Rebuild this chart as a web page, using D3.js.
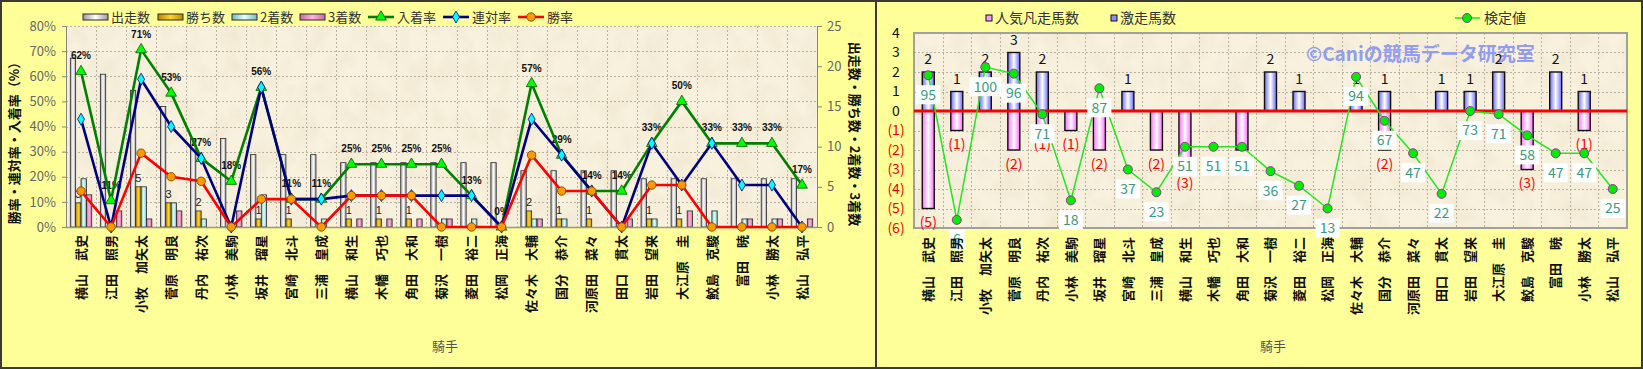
<!DOCTYPE html>
<html>
<head>
<meta charset="utf-8">
<script src="https://cdn.jsdelivr.net/npm/d3@7"></script>
<style>
	body { margin: 0; background: #ffffff; }
	svg { display: block; }
</style>
</head>
<body>
<div id="chart"></div>
<script>
var jockeys = ["横山　武史", "江田　照男", "小牧　加矢太", "菅原　明良", "丹内　祐次", "小林　美駒", "坂井　瑠星", "宮崎　北斗", "三浦　皇成", "横山　和生", "木幡　巧也", "角田　大和", "菊沢　一樹", "菱田　裕二", "松岡　正海", "佐々木　大輔", "国分　恭介", "河原田　菜々", "田口　貫太", "岩田　望来", "大江原　圭", "鮫島　克駿", "富田　暁", "小林　勝太", "松山　弘平"];

// left chart: counts (right axis) and rates in % (left axis)
var starts = [21, 19, 17, 15, 11, 11, 9, 9, 9, 8, 8, 8, 8, 8, 8, 7, 7, 7, 7, 6, 6, 6, 6, 6, 6];
var wins = [3, 0, 5, 3, 2, 0, 1, 1, 0, 1, 1, 1, 0, 0, 0, 2, 1, 1, 0, 1, 1, 0, 0, 0, 0];
var seconds = [6, 0, 5, 3, 1, 0, 4, 0, 1, 0, 0, 0, 1, 1, 0, 1, 1, 0, 0, 1, 0, 2, 1, 1, 0];
var thirds = [4, 2, 1, 2, 0, 2, 0, 0, 0, 1, 1, 1, 1, 0, 0, 1, 0, 0, 1, 0, 2, 0, 1, 1, 1];
var winRate = [14.3, 0, 29.4, 20, 18.2, 0, 11.1, 11.1, 0, 12.5, 12.5, 12.5, 0, 0, 0, 28.6, 14.3, 14.3, 0, 16.7, 16.7, 0, 0, 0, 0];
var rentaiRate = [42.9, 0, 58.8, 40, 27.3, 0, 55.6, 11.1, 11.1, 12.5, 12.5, 12.5, 12.5, 12.5, 0, 42.9, 28.6, 14.3, 0, 33.3, 16.7, 33.3, 16.7, 16.7, 0];
var placeRate = [61.9, 10.5, 70.6, 53.3, 27.3, 18.2, 55.6, 11.1, 11.1, 25, 25, 25, 25, 12.5, 0, 57.1, 28.6, 14.3, 14.3, 33.3, 50, 33.3, 33.3, 33.3, 16.7];
var pctTicks = [0, 10, 20, 30, 40, 50, 60, 70, 80];
var countTicks = [0, 5, 10, 15, 20, 25];

// right chart: 激走 up, 人気凡走 down, 検定値 on a hidden second scale
var gekisou = [2, 1, 2, 3, 2, 0, 0, 1, 0, 0, 0, 0, 2, 1, 0, 1, 1, 0, 1, 1, 2, 0, 2, 1, 0];
var bonsou = [5, 1, 0, 2, 1, 1, 2, 0, 2, 3, 0, 2, 0, 0, 0, 0, 2, 0, 0, 0, 0, 3, 0, 1, 0];
var kentei = [95, 6, 100, 96, 71, 18, 87, 37, 23, 51, 51, 51, 36, 27, 13, 94, 67, 47, 22, 73, 71, 58, 47, 47, 25];
var scoreTicks = [-6, -5, -4, -3, -2, -1, 0, 1, 2, 3, 4];

(function () {
	"use strict";

	var FONT = '"Noto Sans CJK JP", "Noto Sans", sans-serif';
	var WIDTH = 1643, HEIGHT = 369;

	var svg = d3.select('#chart')
		.append('svg')
		.attr('width', WIDTH)
		.attr('height', HEIGHT)
		.style('font-family', FONT);

	var defs = svg.append('defs');
	barGradient(defs, 'g-starts', '#9c9c9c', '#ffffff');
	barGradient(defs, 'g-wins', '#b88a00', '#ffd426');
	barGradient(defs, 'g-seconds', '#74bcbc', '#e4ffff');
	barGradient(defs, 'g-thirds', '#c86a9c', '#ffb6dc');
	barGradient(defs, 'g-gekisou', '#6a6aff', '#ffffff');
	barGradient(defs, 'g-bonsou', '#ff6aff', '#ffffff');
	paperFilter(defs);

	svg.append('rect')
		.attr('x', 1).attr('y', 1)
		.attr('width', WIDTH - 2).attr('height', HEIGHT - 2)
		.attr('fill', '#ffff99')
		.attr('stroke', '#3a3a30')
		.attr('stroke-width', 2);

	svg.append('line')
		.attr('x1', 876).attr('x2', 876)
		.attr('y1', 0).attr('y2', HEIGHT)
		.attr('stroke', '#3a3a30')
		.attr('stroke-width', 2);

	renderResults(svg.append('g'));
	renderScores(svg.append('g'));

	function barGradient(defs, id, edge, mid) {
		var grad = defs.append('linearGradient')
			.attr('id', id)
			.attr('x1', 0).attr('x2', 1).attr('y1', 0).attr('y2', 0);
		grad.append('stop').attr('offset', '0%').attr('stop-color', edge);
		grad.append('stop').attr('offset', '50%').attr('stop-color', mid);
		grad.append('stop').attr('offset', '100%').attr('stop-color', edge);
	}

	function paperFilter(defs) {
		var f = defs.append('filter')
			.attr('id', 'paper')
			.attr('x', 0).attr('y', 0).attr('width', 1).attr('height', 1);
		f.append('feTurbulence')
			.attr('type', 'fractalNoise')
			.attr('baseFrequency', '0.045 0.035')
			.attr('numOctaves', 4)
			.attr('seed', 7);
		f.append('feColorMatrix')
			.attr('type', 'matrix')
			.attr('values', '0 0 0 0 0.80  0 0 0 0 0.72  0 0 0 0 0.52  0.8 0 0 0 -0.3');
	}

	function plotPaper(g, box) {
		g.append('rect')
			.attr('x', box.left).attr('y', box.top)
			.attr('width', box.right - box.left).attr('height', box.bottom - box.top)
			.attr('fill', '#f8f1de');
		g.append('rect')
			.attr('x', box.left).attr('y', box.top)
			.attr('width', box.right - box.left).attr('height', box.bottom - box.top)
			.attr('fill', '#000')
			.attr('filter', 'url(#paper)');
	}

	function drawGrid(g, x, y, yValues, box) {
		var grid = g.append('g')
			.attr('stroke', '#b9b2a2')
			.attr('stroke-width', 1)
			.attr('stroke-dasharray', '2,2');
		grid.selectAll('line.h')
			.data(yValues)
			.enter()
			.append('line')
			.attr('x1', box.left).attr('x2', box.right)
			.attr('y1', function (d) { return Math.round(y(d)) + 0.5; })
			.attr('y2', function (d) { return Math.round(y(d)) + 0.5; });
		grid.selectAll('line.v')
			.data(d3.range(1, x.domain().length))
			.enter()
			.append('line')
			.attr('y1', box.top).attr('y2', box.bottom)
			.attr('x1', function (i) { return Math.round(x(i)) + 0.5; })
			.attr('x2', function (i) { return Math.round(x(i)) + 0.5; });
	}

	function styleAxis(axis, color, size) {
		axis.select('.domain').attr('stroke', '#858585');
		axis.selectAll('.tick line').attr('stroke', '#858585');
		axis.selectAll('.tick text')
			.attr('fill', color)
			.style('font-family', FONT)
			.style('font-size', size + 'px');
	}

	function jockeyLabels(g, cx, top) {
		g.append('g')
			.selectAll('text')
			.data(jockeys)
			.enter()
			.append('text')
			.attr('transform', function (d, i) { return 'translate(' + cx(i) + ',' + top + ') rotate(-90)'; })
			.attr('text-anchor', 'end')
			.attr('dy', '0.36em')
			.attr('fill', '#111')
			.style('font-size', '13px')
			.style('font-weight', 'bold')
			.text(function (d) { return d; });
	}

	function renderResults(g) {
		var box = {left: 66, right: 817, top: 26, bottom: 227};

		var x = d3.scaleBand()
			.domain(d3.range(jockeys.length))
			.range([box.left, box.right]);
		var inner = d3.scaleBand()
			.domain(['starts', 'wins', 'seconds', 'thirds'])
			.range([0, x.bandwidth()])
			.paddingOuter(0.8);
		var yPct = d3.scaleLinear().domain([0, 80]).range([box.bottom, box.top]);
		var yCnt = d3.scaleLinear().domain([0, 25]).range([box.bottom, box.top]);
		var cx = function (i) { return x(i) + x.bandwidth() / 2; };

		plotPaper(g, box);
		drawGrid(g, x, yPct, pctTicks, box);

		var bars = [
			{key: 'starts', values: starts},
			{key: 'wins', values: wins},
			{key: 'seconds', values: seconds},
			{key: 'thirds', values: thirds}
		];
		bars.forEach(function (s) {
			g.append('g')
				.selectAll('rect')
				.data(s.values.map(function (v, i) { return {i: i, v: v}; }).filter(function (d) { return d.v > 0; }))
				.enter()
				.append('rect')
				.attr('x', function (d) { return x(d.i) + inner(s.key); })
				.attr('y', function (d) { return yCnt(d.v); })
				.attr('width', inner.bandwidth())
				.attr('height', function (d) { return yCnt(0) - yCnt(d.v); })
				.attr('fill', 'url(#g-' + s.key + ')')
				.attr('stroke', '#2a2a2a')
				.attr('stroke-width', 0.8);
		});

		var left = g.append('g')
			.attr('transform', 'translate(' + box.left + ',0)')
			.call(d3.axisLeft(yPct)
				.tickValues(pctTicks)
				.tickFormat(function (d) { return d + '%'; })
				.tickSize(4)
				.tickSizeOuter(0)
				.tickPadding(6));
		styleAxis(left, '#666', 13);

		var right = g.append('g')
			.attr('transform', 'translate(' + box.right + ',0)')
			.call(d3.axisRight(yCnt)
				.tickValues(countTicks)
				.tickSize(5)
				.tickSizeOuter(0)
				.tickPadding(5));
		styleAxis(right, '#666', 13);

		g.append('line')
			.attr('x1', box.left).attr('x2', box.right)
			.attr('y1', box.bottom + 0.5).attr('y2', box.bottom + 0.5)
			.attr('stroke', '#9a9a80')
			.attr('stroke-width', 1.5);

		// count labels on the win bars
		g.append('g')
			.selectAll('text')
			.data(wins.map(function (v, i) { return {i: i, v: v}; }).filter(function (d) { return d.v > 0; }))
			.enter()
			.append('text')
			.attr('x', function (d) { return x(d.i) + inner('wins') + inner.bandwidth() / 2; })
			.attr('y', function (d) { return yCnt(d.v) - 5; })
			.attr('text-anchor', 'middle')
			.attr('fill', '#222')
			.style('font-family', '"Liberation Sans", Arial, sans-serif')
			.style('font-size', '11px')
			.text(function (d) { return d.v; });

		// 入着率 labels
		g.append('g')
			.selectAll('text')
			.data(placeRate)
			.enter()
			.append('text')
			.attr('x', function (d, i) { return cx(i); })
			.attr('y', function (d) { return yPct(d) - 12; })
			.attr('text-anchor', 'middle')
			.attr('fill', '#111')
			.style('font-family', '"Liberation Sans", Arial, sans-serif')
			.style('font-size', '10px')
			.style('font-weight', 'bold')
			.text(function (d) { return Math.round(d) + '%'; });

		var lines = [
			{values: placeRate, color: '#008000', symbol: d3.symbolTriangle, size: 50, fill: '#00ff00', edge: '#006000'},
			{values: rentaiRate, color: '#000080', symbol: d3.symbolDiamond, size: 42, fill: '#00ffff', edge: '#000080'},
			{values: winRate, color: '#ff0000', symbol: d3.symbolCircle, size: 56, fill: '#ff9900', edge: '#6e3a00'}
		];
		lines.forEach(function (s) {
			g.append('path')
				.datum(s.values)
				.attr('fill', 'none')
				.attr('stroke', s.color)
				.attr('stroke-width', 2.6)
				.attr('stroke-linejoin', 'round')
				.attr('d', d3.line()
					.x(function (d, i) { return cx(i); })
					.y(function (d) { return yPct(d); }));
			g.append('g')
				.selectAll('path')
				.data(s.values)
				.enter()
				.append('path')
				.attr('transform', function (d, i) { return 'translate(' + cx(i) + ',' + yPct(d) + ')'; })
				.attr('d', d3.symbol().type(s.symbol).size(s.size))
				.attr('fill', s.fill)
				.attr('stroke', s.edge)
				.attr('stroke-width', 0.8);
		});

		jockeyLabels(g, cx, 235);

		g.append('text')
			.attr('transform', 'translate(14,140) rotate(-90)')
			.attr('text-anchor', 'middle')
			.attr('dy', '0.35em')
			.attr('fill', '#111')
			.style('font-size', '13px')
			.style('font-weight', 'bold')
			.text('勝率・連対率・入着率（%）');

		g.append('text')
			.attr('transform', 'translate(855,134) rotate(90)')
			.attr('text-anchor', 'middle')
			.attr('dy', '0.35em')
			.attr('fill', '#111')
			.style('font-size', '13px')
			.style('font-weight', 'bold')
			.text('出走数・勝ち数・2着数・3着数');

		g.append('text')
			.attr('x', 432).attr('y', 346)
			.attr('dy', '0.35em')
			.attr('fill', '#555')
			.style('font-size', '13px')
			.text('騎手');

		// legend
		var legend = g.append('g').style('font-size', '13px');
		var boxItems = [
			{key: 'starts', label: '出走数', x: 83},
			{key: 'wins', label: '勝ち数', x: 158},
			{key: 'seconds', label: '2着数', x: 232},
			{key: 'thirds', label: '3着数', x: 300}
		];
		boxItems.forEach(function (it) {
			legend.append('rect')
				.attr('x', it.x).attr('y', 14)
				.attr('width', 25).attr('height', 6)
				.attr('fill', 'url(#g-' + it.key + ')')
				.attr('stroke', '#2a2a2a');
			legend.append('text')
				.attr('x', it.x + 28).attr('y', 17)
				.attr('dy', '0.35em')
				.attr('fill', '#333')
				.text(it.label);
		});
		var lineItems = [
			{s: lines[0], label: '入着率', x: 368},
			{s: lines[1], label: '連対率', x: 443},
			{s: lines[2], label: '勝率', x: 518}
		];
		lineItems.forEach(function (it) {
			legend.append('line')
				.attr('x1', it.x).attr('x2', it.x + 26)
				.attr('y1', 17).attr('y2', 17)
				.attr('stroke', it.s.color)
				.attr('stroke-width', 2.6);
			legend.append('path')
				.attr('transform', 'translate(' + (it.x + 13) + ',17)')
				.attr('d', d3.symbol().type(it.s.symbol).size(it.s.size))
				.attr('fill', it.s.fill)
				.attr('stroke', it.s.edge)
				.attr('stroke-width', 0.8);
			legend.append('text')
				.attr('x', it.x + 29).attr('y', 17)
				.attr('dy', '0.35em')
				.attr('fill', '#333')
				.text(it.label);
		});
	}

	function renderScores(g) {
		var box = {left: 914, right: 1627, top: 33, bottom: 228};

		var x = d3.scaleBand()
			.domain(d3.range(jockeys.length))
			.range([box.left, box.right]);
		var y = d3.scaleLinear().domain([-6, 4]).range([box.bottom, box.top]);
		var yScore = d3.scaleLinear().domain([1, 121]).range([box.bottom, box.top]);
		var cx = function (i) { return x(i) + x.bandwidth() / 2; };
		var barW = 12;

		plotPaper(g, box);
		drawGrid(g, x, y, scoreTicks, box);

		g.append('rect')
			.attr('x', box.left).attr('y', box.top)
			.attr('width', box.right - box.left).attr('height', box.bottom - box.top)
			.attr('fill', 'none')
			.attr('stroke', '#a0a0a0')
			.attr('stroke-width', 2);

		var up = gekisou.map(function (v, i) { return {i: i, v: v}; }).filter(function (d) { return d.v > 0; });
		var down = bonsou.map(function (v, i) { return {i: i, v: v}; }).filter(function (d) { return d.v > 0; });

		g.append('g')
			.selectAll('rect')
			.data(down)
			.enter()
			.append('rect')
			.attr('x', function (d) { return cx(d.i) - barW / 2; })
			.attr('y', y(0))
			.attr('width', barW)
			.attr('height', function (d) { return y(-d.v) - y(0); })
			.attr('fill', 'url(#g-bonsou)')
			.attr('stroke', '#111')
			.attr('stroke-width', 1.4);

		g.append('g')
			.selectAll('rect')
			.data(up)
			.enter()
			.append('rect')
			.attr('x', function (d) { return cx(d.i) - barW / 2; })
			.attr('y', function (d) { return y(d.v); })
			.attr('width', barW)
			.attr('height', function (d) { return y(0) - y(d.v); })
			.attr('fill', 'url(#g-gekisou)')
			.attr('stroke', '#111')
			.attr('stroke-width', 1.4);

		g.append('line')
			.attr('x1', box.left).attr('x2', box.right)
			.attr('y1', y(0)).attr('y2', y(0))
			.attr('stroke', '#ff0000')
			.attr('stroke-width', 3);

		var axis = g.append('g')
			.attr('transform', 'translate(' + box.left + ',0)')
			.call(d3.axisLeft(y)
				.tickValues(scoreTicks)
				.tickSize(0)
				.tickFormat(function (d) { return d < 0 ? '(' + (-d) + ')' : d; }));
		axis.select('.domain').remove();
		axis.selectAll('.tick text')
			.attr('x', -18)
			.attr('text-anchor', 'middle')
			.attr('fill', function (d) { return d < 0 ? '#ff0000' : '#111'; })
			.style('font-family', FONT)
			.style('font-size', '14px');

		g.append('text')
			.attr('x', 1306).attr('y', 54)
			.attr('dy', '0.35em')
			.attr('fill', '#929cf0')
			.style('font-size', '19px')
			.style('font-weight', 'bold')
			.text('©Caniの競馬データ研究室');

		g.append('g')
			.selectAll('text')
			.data(up)
			.enter()
			.append('text')
			.attr('x', function (d) { return cx(d.i); })
			.attr('y', function (d) { return y(d.v) - 8; })
			.attr('text-anchor', 'middle')
			.attr('fill', '#111')
			.style('font-size', '14px')
			.text(function (d) { return d.v; });

		g.append('g')
			.selectAll('text')
			.data(down)
			.enter()
			.append('text')
			.attr('x', function (d) { return cx(d.i); })
			.attr('y', function (d) { return y(-d.v) + 14; })
			.attr('dy', '0.35em')
			.attr('text-anchor', 'middle')
			.attr('fill', '#ff0000')
			.style('font-size', '14px')
			.text(function (d) { return '(' + d.v + ')'; });

		g.append('path')
			.datum(kentei)
			.attr('fill', 'none')
			.attr('stroke', '#22e622')
			.attr('stroke-width', 1.5)
			.attr('d', d3.line()
				.x(function (d, i) { return cx(i); })
				.y(function (d) { return yScore(d); }));

		g.append('g')
			.selectAll('circle')
			.data(kentei)
			.enter()
			.append('circle')
			.attr('cx', function (d, i) { return cx(i); })
			.attr('cy', function (d) { return yScore(d); })
			.attr('r', 4.5)
			.attr('fill', '#00ee00')
			.attr('stroke', '#993399')
			.attr('stroke-width', 1);

		var tags = g.append('g')
			.selectAll('g')
			.data(kentei)
			.enter()
			.append('g')
			.attr('transform', function (d, i) { return 'translate(' + cx(i) + ',' + (yScore(d) + 19.5) + ')'; });
		tags.append('rect')
			.attr('x', function (d) { return -(String(d).length * 8 + 6) / 2 - 1; })
			.attr('y', -9.5)
			.attr('width', function (d) { return String(d).length * 8 + 8; })
			.attr('height', 19)
			.attr('fill', '#ffffff');
		tags.append('text')
			.attr('text-anchor', 'middle')
			.attr('dy', '0.35em')
			.attr('fill', '#3a9a80')
			.style('font-size', '14px')
			.text(function (d) { return d; });

		jockeyLabels(g, cx, 237);

		g.append('text')
			.attr('x', 1260).attr('y', 346)
			.attr('dy', '0.35em')
			.attr('fill', '#555')
			.style('font-size', '13px')
			.text('騎手');

		// legend
		var legend = g.append('g').style('font-size', '14px');
		[{fill: '#ff99ff', label: '人気凡走馬数', x: 986}, {fill: '#8c8cff', label: '激走馬数', x: 1111}].forEach(function (it) {
			legend.append('rect')
				.attr('x', it.x).attr('y', 15)
				.attr('width', 6).attr('height', 6)
				.attr('fill', it.fill)
				.attr('stroke', '#111');
			legend.append('text')
				.attr('x', it.x + 9).attr('y', 18)
				.attr('dy', '0.35em')
				.attr('fill', '#333')
				.text(it.label);
		});
		legend.append('line')
			.attr('x1', 1455).attr('x2', 1480)
			.attr('y1', 18).attr('y2', 18)
			.attr('stroke', '#22e622')
			.attr('stroke-width', 1.5);
		legend.append('circle')
			.attr('cx', 1467).attr('cy', 18)
			.attr('r', 4.5)
			.attr('fill', '#00ee00')
			.attr('stroke', '#993399');
		legend.append('text')
			.attr('x', 1484).attr('y', 18)
			.attr('dy', '0.35em')
			.attr('fill', '#333')
			.text('検定値');
	}
}());
</script>
</body>
</html>
